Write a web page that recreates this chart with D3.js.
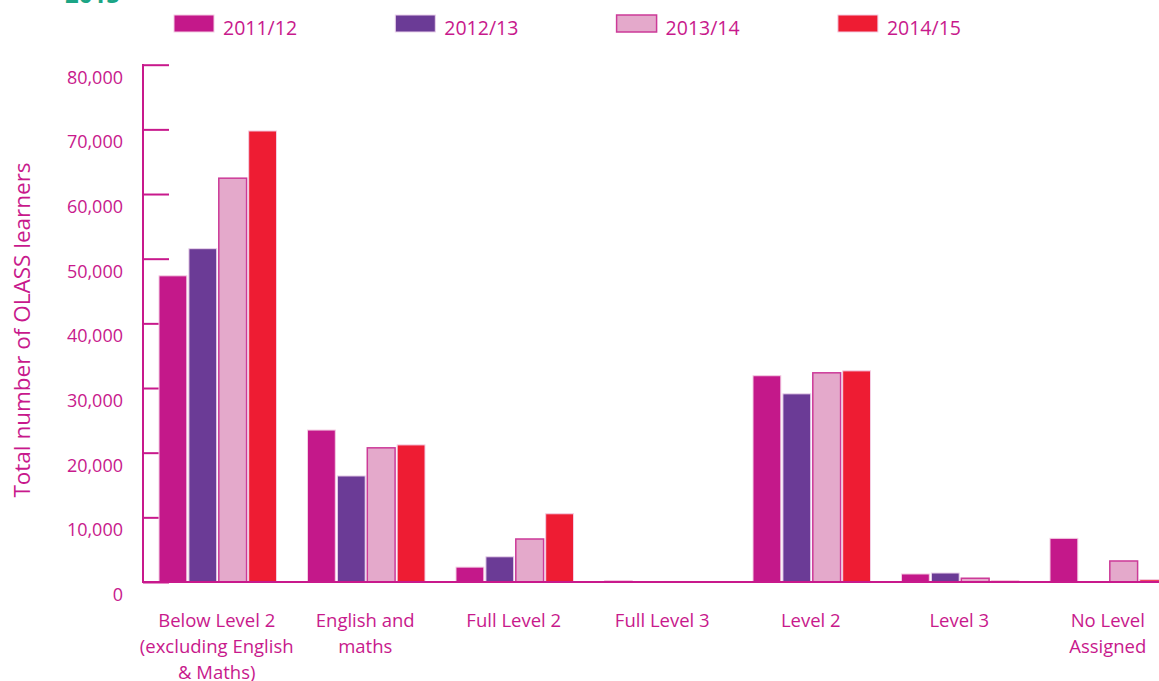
<!DOCTYPE html>
<html>
<head>
<meta charset="utf-8">
<script src="https://cdn.jsdelivr.net/npm/d3@7"></script>
<style>
  html, body { margin: 0; padding: 0; background: #fff; }
  svg { display: block; font-family: "Open Sans", sans-serif; }
</style>
</head>
<body>
<svg id="chart" width="1159" height="681"></svg>
<script>
const categories = [
  ["Below Level 2", "(excluding English", "& Maths)"],
  ["English and", "maths"],
  ["Full Level 2"],
  ["Full Level 3"],
  ["Level 2"],
  ["Level 3"],
  ["No Level", "Assigned"]
];
const seriesNames = ["2011/12", "2012/13", "2013/14", "2014/15"];
const values2011 = [47350, 23500, 2300, 200, 31900, 1240, 6750];
const values2012 = [51550, 16400, 3900, 50, 29100, 1390, 0];
const values2013 = [62450, 20750, 6650, 40, 32350, 580, 3250];
const values2014 = [69750, 21200, 10550, 30, 32650, 200, 350];
const yTicks = [0, 10000, 20000, 30000, 40000, 50000, 60000, 70000, 80000];

const seriesValues = [values2011, values2012, values2013, values2014];
const colors = ["#C4188A", "#6B3B96", "#E4A9CB", "#EE1C33"];
const strokes = ["#F3CDE3", "#EBD3EC", "#CC3A98", "#F3CDE3"];
const txt = "#C8198C";

const svg = d3.select("#chart");

// cut-off title fragment at top
svg.append("text").attr("x", 65).attr("y", 3)
  .attr("fill", "#1BA585").attr("font-weight", "bold")
  .attr("font-size", 24).text("2015");

const y = d3.scaleLinear().domain([0, 80000]).range([582, 64.7]);
const x0 = d3.scaleBand().domain(d3.range(categories.length))
  .range([143, 1183.5]).paddingInner(0.2088).paddingOuter(0.1077);
const x1 = d3.scaleBand().domain(d3.range(seriesNames.length))
  .range([0, x0.bandwidth()]).paddingInner(0.07).paddingOuter(0);

// y ticks (inside, behind bars)
const yAxis = d3.axisRight(y).tickValues(yTicks).tickSize(26).tickFormat("");
const ya = svg.append("g").attr("transform", "translate(143,0)").call(yAxis);
ya.select(".domain").remove();
ya.selectAll(".tick line").attr("stroke", txt).attr("stroke-width", 2);

// y tick labels
const yl = d3.axisLeft(y).tickValues(yTicks).tickSize(0).tickPadding(20)
  .tickFormat(d3.format(","));
const yla = svg.append("g").attr("transform", "translate(143,0)").call(yl);
yla.select(".domain").remove();
yla.selectAll(".tick text").attr("fill", txt).attr("font-size", 18)
  .attr("font-family", "Open Sans").attr("dy", "18.5").attr("y", 0);

// bars
const groups = svg.append("g").selectAll("g").data(categories).join("g")
  .attr("transform", (d, i) => `translate(${x0(i)},0)`);
groups.selectAll("rect")
  .data((d, i) => seriesValues.map((s, k) => ({ k, v: s[i] })))
  .join("rect")
  .attr("x", d => x1(d.k))
  .attr("width", x1.bandwidth())
  .attr("y", d => y(d.v))
  .attr("height", d => y(0) - y(d.v))
  .attr("fill", d => colors[d.k])
  .attr("stroke", d => strokes[d.k])
  .attr("stroke-width", d => d.k === 2 ? 1.5 : 1);

// axis lines
svg.append("line").attr("x1", 143).attr("x2", 143).attr("y1", 64).attr("y2", 583)
  .attr("stroke", txt).attr("stroke-width", 2);
svg.append("line").attr("x1", 142).attr("x2", 1159).attr("y1", 582).attr("y2", 582)
  .attr("stroke", txt).attr("stroke-width", 2);

// x labels
const xl = svg.append("g");
categories.forEach((lines, i) => {
  const t = xl.append("text")
    .attr("x", x0(i) + x0.bandwidth() / 2 - 1)
    .attr("y", 627)
    .attr("text-anchor", "middle")
    .attr("fill", txt).attr("font-size", 18.5);
  lines.forEach((ln, j) => {
    t.append("tspan").attr("x", x0(i) + x0.bandwidth() / 2 - 1)
      .attr("dy", j === 0 ? 0 : 26).text(ln);
  });
});

// y title
svg.append("text")
  .attr("transform", "translate(30,330) rotate(-90)")
  .attr("text-anchor", "middle")
  .attr("fill", txt).attr("font-size", 22.5)
  .text("Total number of OLASS learners");

// legend
const leg = svg.append("g");
seriesNames.forEach((n, k) => {
  const lx = 174 + k * 221.3;
  leg.append("rect").attr("x", lx).attr("y", 15).attr("width", 40).attr("height", 17)
    .attr("fill", colors[k]).attr("stroke", strokes[k]).attr("stroke-width", k === 2 ? 1.5 : 1);
  leg.append("text").attr("x", lx + 49).attr("y", 35)
    .attr("fill", txt).attr("font-size", 19.5).text(n);
});
</script>
</body>
</html>
